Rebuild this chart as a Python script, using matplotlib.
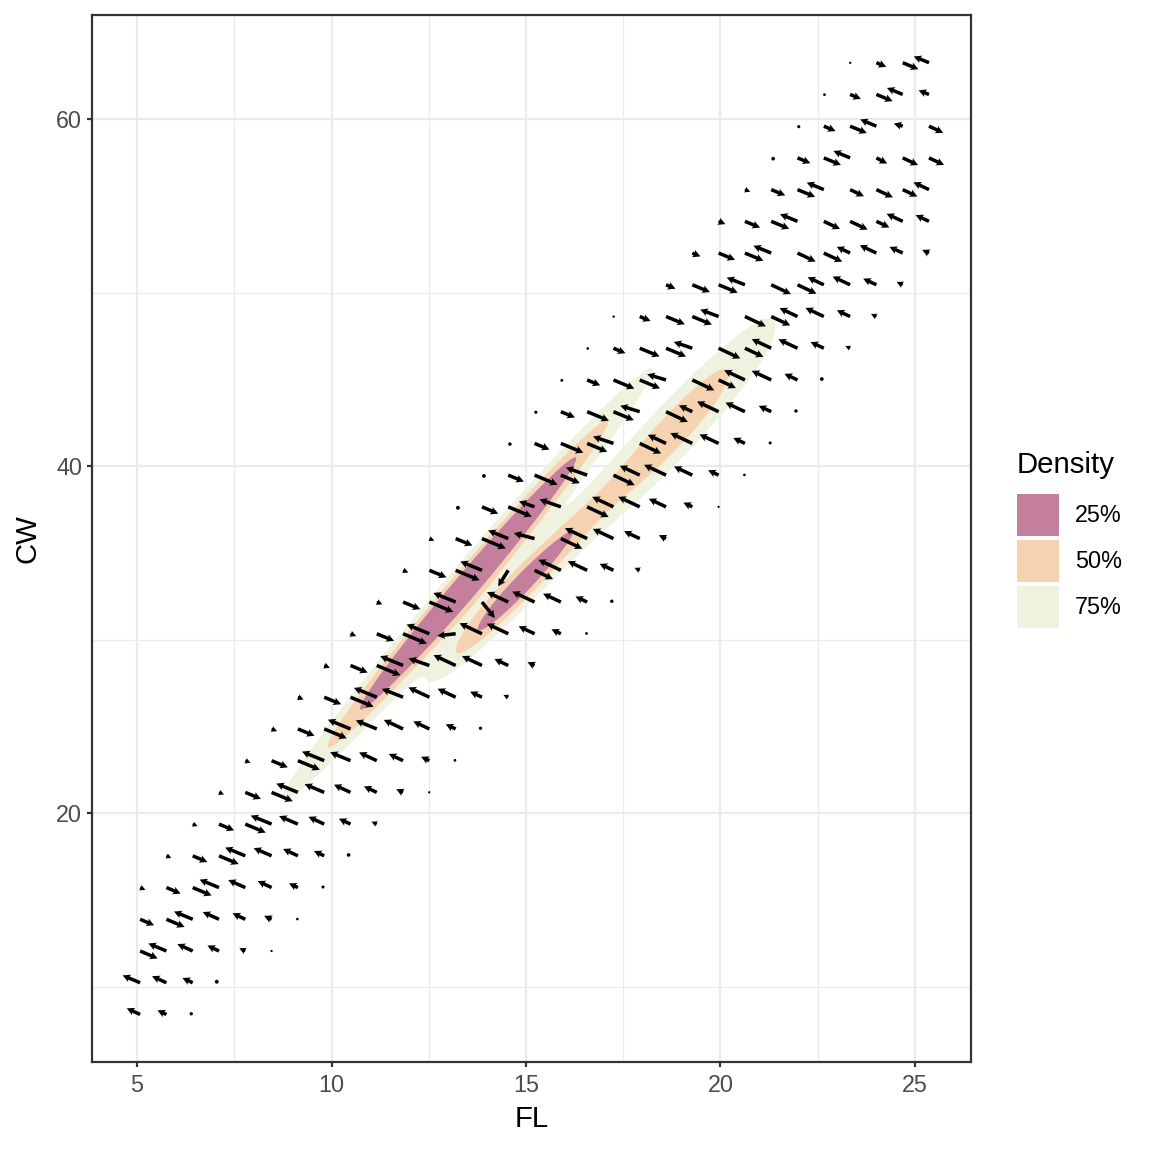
import numpy as np
import matplotlib
matplotlib.use("Agg")
import matplotlib.pyplot as plt
from matplotlib.patches import Patch

plt.rcParams["font.family"] = ["Liberation Sans", "DejaVu Sans"]

# ---------------- data ----------------
# Ridge centre lines: CW = intercept + slope * FL
line_intercept = [-1.72, -0.78]
line_slope = [2.588, 2.28]

# Density mixture components lying along the two ridges
comp_line = [0, 0, 1, 1, 1, 1]
comp_weight = [0.454, 0.07, 0.153, 0.135, 0.135, 0.09]
comp_fl_mean = [13.52, 13.8, 14.7, 18.9, 18.9, 16.5]
comp_fl_sd = [2.69, 6.0, 1.373, 1.9, 1.9, 6.0]
comp_cw_offset = [0.0, 0.0, 0.0, 1.0, -1.0, 0.0]
comp_cw_sd = [1.05, 0.9, 0.95, 1.1, 1.1, 1.3]

hdr_probs = [0.25, 0.50, 0.75]
hdr_labels = ["25%", "50%", "75%"]
hdr_colors = ["#C47F9D", "#F6D3B0", "#EFF2DE"]

field_fl_range = [5.08, 25.36]
field_cw_range = [8.39, 63.25]
field_n = 31

x_ticks = [5, 10, 15, 20, 25]
y_ticks = [20, 40, 60]
x_minor = [7.5, 12.5, 17.5, 22.5]
y_minor = [10, 30, 50]
x_limits = [3.843, 26.44]
y_limits = [5.65, 66.0]


def density_and_grad(fl, cw, along=True):
    f = np.zeros(np.broadcast(fl, cw).shape)
    dfl = np.zeros_like(f)
    dcw = np.zeros_like(f)
    for li, w, m, t, o, s in zip(comp_line, comp_weight, comp_fl_mean, comp_fl_sd,
                                 comp_cw_offset, comp_cw_sd):
        b = line_slope[li]
        v = cw - (line_intercept[li] + o + b * fl)
        term = w * np.exp(-0.5 * ((fl - m) / t) ** 2 - 0.5 * (v / s) ** 2) / (2 * np.pi * t * s)
        f += term
        dfl += term * ((-(fl - m) / t ** 2 if along else 0.0) + b * v / s ** 2)
        dcw += term * (-v / s ** 2)
    return f, dfl, dcw


# ---------------- figure ----------------
W = H = 1152
fig = plt.figure(figsize=(8, 8), dpi=144)
px_l, px_r, px_t, px_b = 92, 971, 15, 1062
ax = fig.add_axes([px_l / W, 1 - px_b / H, (px_r - px_l) / W, (px_b - px_t) / H])
ax.set_xlim(*x_limits)
ax.set_ylim(*y_limits)

# HDR regions (highest density regions holding 25/50/75 % of the mass)
gx = np.linspace(x_limits[0], x_limits[1], 700)
gy = np.linspace(y_limits[0], y_limits[1], 700)
GX, GY = np.meshgrid(gx, gy)
F, _, _ = density_and_grad(GX, GY)
fs = np.sort(F.ravel())[::-1]
cum = np.cumsum(fs)
cum /= cum[-1]
thr = [fs[np.searchsorted(cum, p)] for p in hdr_probs]  # 25%, 50%, 75%
levels = [thr[2], thr[1], thr[0], F.max() * 1.01]
ax.contourf(GX, GY, F, levels=levels,
            colors=[hdr_colors[2], hdr_colors[1], hdr_colors[0]],
            antialiased=True, zorder=2)

# gradient field (ridge-normal part of the density gradient)
fx = np.linspace(field_fl_range[0], field_fl_range[1], field_n)
fy = np.linspace(field_cw_range[0], field_cw_range[1], field_n)
FX, FY = np.meshgrid(fx, fy)
_, GFL, GCW = density_and_grad(FX, FY, along=False)
sx, sy = 1.0, 2.4
gsx, gsy = GFL * sx, GCW * sy
mag = np.hypot(gsx, gsy)
gmax = mag.max()
with np.errstate(divide="ignore"):
    D = np.log(gmax / mag)
ppx = (px_r - px_l) / (x_limits[1] - x_limits[0])
ppy = (px_b - px_t) / (y_limits[1] - y_limits[0])
pxv, pyv = gsx * ppx, gsy * ppy
pn = np.hypot(pxv, pyv)
pn[pn == 0] = 1
L_max, D_max = 26.0, 14.0
show = np.isfinite(D) & (D < D_max)
ell = np.where(show, L_max * np.clip(1 - D / D_max, 0, 1) ** 1.3, 0.0)
U = ell * (pxv / pn) / ppx
V = ell * (pyv / pn) / ppy
big = show & (ell >= 5.0)
tiny = show & (ell < 5.0)
ax.quiver(FX[big], FY[big], U[big], V[big], angles="xy", scale_units="xy", scale=1,
          pivot="tail", units="dots", width=3.5, headwidth=2.3, headlength=2.2,
          headaxislength=1.9, minlength=0.8, color="black", zorder=4)
dot_d = 2.2 + 0.35 * ell[tiny]
ax.scatter(FX[tiny] + 0.5 * U[tiny], FY[tiny] + 0.5 * V[tiny],
           s=(dot_d / 2.0) ** 2, color="black", linewidths=0, zorder=4)

# axes styling (theme_bw-like)
ax.set_xticks(x_ticks)
ax.set_yticks(y_ticks)
ax.set_xticks(x_minor, minor=True)
ax.set_yticks(y_minor, minor=True)
ax.grid(which="major", color="#EBEBEB", linewidth=1.1, zorder=0)
ax.grid(which="minor", color="#EBEBEB", linewidth=0.55, zorder=0)
ax.set_axisbelow(True)
ax.tick_params(which="major", length=2.7, width=1.1, color="#333333",
               labelsize=11.7, labelcolor="#4D4D4D", pad=2.2)
ax.tick_params(axis="x", which="major", pad=3.4)
ax.tick_params(which="minor", length=0)
for sp in ax.spines.values():
    sp.set_color("#333333")
    sp.set_linewidth(1.1)
ax.set_xlabel("FL", fontsize=14.7, labelpad=4)
ax.set_ylabel("CW", fontsize=14.7, labelpad=7.5)

handles = [Patch(facecolor=c, edgecolor="none") for c in hdr_colors]
leg = fig.legend(handles, hdr_labels, title="Density", loc="upper left",
                 bbox_to_anchor=(1017 / W, 1 - 451 / H), frameon=False,
                 fontsize=11.7, title_fontsize=14.7, handlelength=1.79, handleheight=2.377,
                 labelspacing=0.17, handletextpad=0.68, borderpad=0, borderaxespad=0,
                 alignment="left")
leg._legend_box.sep = 7.5

fig.savefig("out.png", dpi=144)
